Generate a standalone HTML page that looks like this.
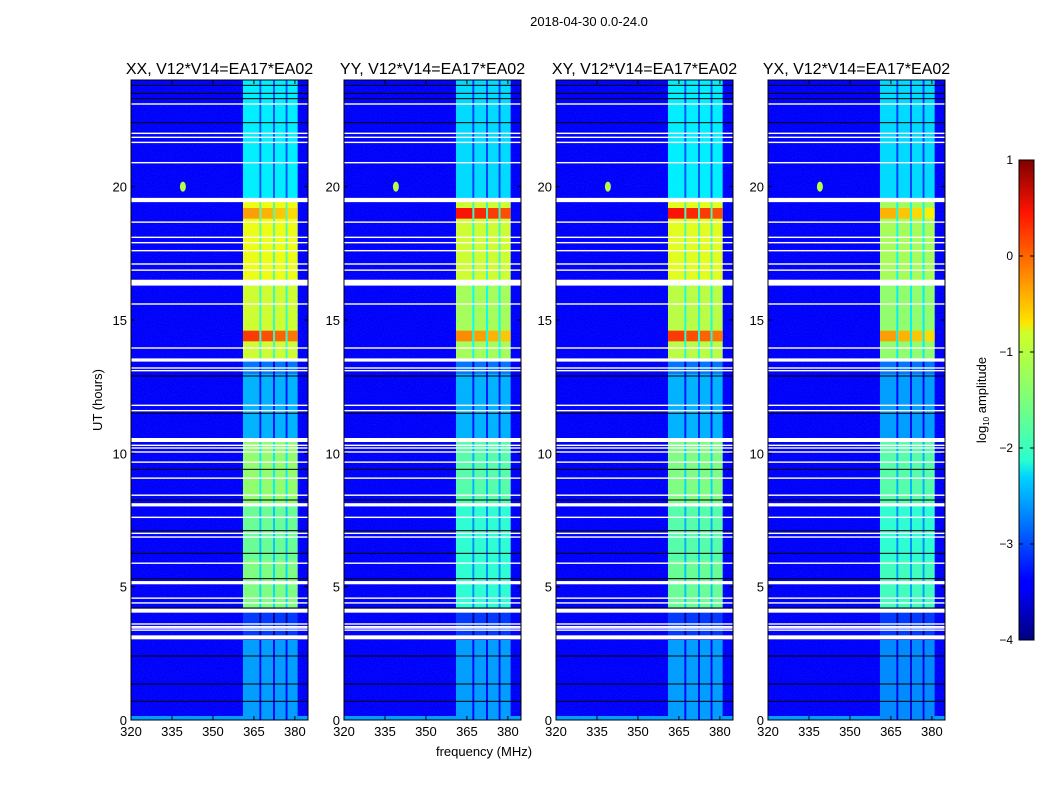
<!DOCTYPE html>
<html><head><meta charset="utf-8"><style>
body{margin:0;background:#fff;}
svg{display:block;font-family:"Liberation Sans",sans-serif;}
</style></head><body>
<svg id="fig" width="1050" height="800" viewBox="0 0 1050 800">
<defs>
<linearGradient id="jetg" x1="0" y1="1" x2="0" y2="0">
<stop offset="0" stop-color="#00007f"/><stop offset="0.11" stop-color="#0000ff"/>
<stop offset="0.125" stop-color="#0000ff"/><stop offset="0.34" stop-color="#00d4ff"/>
<stop offset="0.375" stop-color="#29ffce"/><stop offset="0.5" stop-color="#7dff7a"/>
<stop offset="0.64" stop-color="#ceff29"/><stop offset="0.66" stop-color="#ffe500"/>
<stop offset="0.89" stop-color="#ff1400"/><stop offset="1" stop-color="#7f0000"/>
</linearGradient>
<filter id="noise" x="0" y="0" width="100%" height="100%">
<feTurbulence type="fractalNoise" baseFrequency="0.9" numOctaves="1" seed="3"/>
<feColorMatrix type="matrix" values="0 0 0 0 0.1  0 0 0 0 0.45  0 0 0 0 1  0 0 0 0.9 -0.4"/>
</filter>
</defs>
<text x="589" y="26" font-size="13" text-anchor="middle">2018-04-30 0.0-24.0</text>
<text x="484" y="756" font-size="13" text-anchor="middle">frequency (MHz)</text>
<text transform="translate(102,400) rotate(-90)" font-size="13" text-anchor="middle">UT (hours)</text>
<g id="panels"></g>
<g id="cbar">
<rect x="1019" y="160" width="15" height="480" fill="url(#jetg)" stroke="#000" stroke-width="1"/>
<text transform="translate(986,400) rotate(-90)" font-size="13" text-anchor="middle">log<tspan font-size="8" dy="3">10</tspan><tspan dy="-3"> amplitude</tspan></text>
</g>
</svg>
<script>
// ---- data ----
const panelTitles = ["XX, V12*V14=EA17*EA02","YY, V12*V14=EA17*EA02","XY, V12*V14=EA17*EA02","YX, V12*V14=EA17*EA02"];
const xTicks = [320,335,350,365,380];
const yTicks = [0,5,10,15,20];
const cbTicks = [1,0,-1,-2,-3,-4];
const segStart = [0, 3.1, 4.2, 6.0, 8.1, 10.5, 13.0, 13.5, 16.4, 19.5];
const segEnd   = [3.0, 4.2, 6.0, 8.1, 10.5, 13.0, 13.5, 16.4, 19.5, 24];
const bandXX = [-2.6,-3.1,-1.5,-1.6,-1.4,-2.5,-2.8,-1.1,-0.95,-2.2];
const bandYY = [-2.6,-3.1,-1.9,-1.9,-1.7,-2.5,-2.8,-1.3,-1.1,-2.3];
const bandXY = [-2.6,-3.1,-1.6,-1.7,-1.5,-2.5,-2.8,-1.2,-1.0,-2.2];
const bandYX = [-2.7,-3.1,-1.8,-1.9,-1.7,-2.6,-2.8,-1.4,-1.3,-2.3];
const hotStart = [14.2, 18.8];
const hotEnd = [14.6, 19.2];
const hotXX = [0.1, -0.4], hotYY = [-0.3, 0.3], hotXY = [0.1, 0.3], hotYX = [-0.4, -0.5];
const subBandStart = [361.0, 367.7, 372.7, 377.3];
const subBandEnd = [367.0, 372.0, 376.6, 381.0];
const bgLevel = -3.4;
const whiteLines = [23.1,22.0,21.85,21.66,20.9,18.67,18.1,17.9,17.6,17.1,16.87,15.6,13.95,13.2,13.1,11.8,11.6,10.3,10.2,10.05,9.67,9.07,8.43,7.6,7.0,6.86,5.88,4.57,4.39,3.6,3.5,3.45,3.37];
const thickWhite = [19.5,16.4,13.5,10.5,8.07,5.15,4.1,3.1];
const thickWidth = [0.16,0.22,0.12,0.15,0.12,0.12,0.15,0.15];
const darkLines = [23.8,23.5,23.3,22.4,12.9,11.5,9.4,8.25,7.1,6.25,5.3,4.2,2.4,1.35,0.7];
// ---- layout ----
const panelX = [131,344,556,768], pw = 177, yTop = 80, yBot = 720;
const xmin = 320, xmax = 384.8, ymax = 24;
function jet(v){let t=Math.max(0,Math.min(1,(v+4)/5));
 const r=Math.max(0,Math.min(1,1.5-Math.abs(4*t-3))),g=Math.max(0,Math.min(1,1.5-Math.abs(4*t-2))),b=Math.max(0,Math.min(1,1.5-Math.abs(4*t-1)));
 return `rgb(${Math.round(r*255)},${Math.round(g*255)},${Math.round(b*255)})`;}
const NS="http://www.w3.org/2000/svg";
function el(tag,attrs,parent){const e=document.createElementNS(NS,tag);for(const k in attrs)e.setAttribute(k,attrs[k]);parent.appendChild(e);return e;}
const bands=[bandXX,bandYY,bandXY,bandYX], hots=[hotXX,hotYY,hotXY,hotYX];
const root=document.getElementById('panels');
panelX.forEach((px,p)=>{
 const sx=f=>px+(f-xmin)/(xmax-xmin)*pw, sy=h=>yBot-h/ymax*(yBot-yTop);
 const g=el('g',{},root);
 
 
 const bg=el('rect',{x:px,y:yTop,width:pw,height:yBot-yTop,fill:jet(bgLevel)},g);
 
 
 const bs=el('rect',{x:px,y:sy(0.15),width:pw,height:sy(0)-sy(0.15),fill:jet(-2.6)},g);
 
 
 segStart.forEach((s,i)=>{
  const lv=bands[p][i];
  const gap=el('rect',{x:sx(subBandStart[0]),y:sy(segEnd[i]),width:sx(subBandEnd[3])-sx(subBandStart[0]),height:sy(s)-sy(segEnd[i]),fill:jet(lv-0.8)},g);
  
  
  subBandStart.forEach((f0,j)=>{
   const c=el('rect',{x:sx(f0),y:sy(segEnd[i]),width:sx(subBandEnd[j])-sx(f0),height:sy(s)-sy(segEnd[i]),fill:jet(lv)},g);
   
   
  });
 });
 hotStart.forEach((s,i)=>{
  subBandStart.forEach((f0,j)=>{
   const c=el('rect',{x:sx(f0),y:sy(hotEnd[i]),width:sx(subBandEnd[j])-sx(f0),height:sy(s)-sy(hotEnd[i]),fill:jet(hots[p][i]-j*0.1)},g);
   
   
  });
 });
 const spot=el('ellipse',{cx:sx(339),cy:sy(20),rx:3,ry:5,fill:jet(-1.2)},g);
 
 
 const nz=el('rect',{x:px,y:yTop,width:pw,height:yBot-yTop,filter:'url(#noise)',opacity:0.35},g);
 
 
 darkLines.forEach(h=>{const l=el('rect',{x:px,y:sy(h)-0.5,width:pw,height:1,fill:'#000'},g);
  
  });
 whiteLines.forEach(h=>{const l=el('rect',{x:px,y:sy(h)-0.7,width:pw,height:1.4,fill:'#fff'},g);
  
  });
 thickWhite.forEach((h,i)=>{const w=thickWidth[i]*(yBot-yTop)/ymax;const l=el('rect',{x:px,y:sy(h)-w/2,width:pw,height:w,fill:'#fff'},g);
  
  });
 const fr=el('rect',{x:px,y:yTop,width:pw,height:yBot-yTop,fill:'none',stroke:'#000','stroke-width':1},g);
 
 
 const t=el('text',{x:px+pw/2,y:74,'font-size':16,'text-anchor':'middle'},g);t.textContent=panelTitles[p];
 
 
 xTicks.forEach(v=>{const x=sx(v);
  el('line',{x1:x,x2:x,y1:yBot,y2:yBot-4,stroke:'#000'},g);el('line',{x1:x,x2:x,y1:yTop,y2:yTop+4,stroke:'#000'},g);
  const tl=el('text',{x:x,y:yBot+16,'font-size':13,'text-anchor':'middle'},g);tl.textContent=v;
  
  });
 yTicks.forEach(v=>{const y=sy(v);
  el('line',{x1:px,x2:px+4,y1:y,y2:y,stroke:'#000'},g);el('line',{x1:px+pw,x2:px+pw-4,y1:y,y2:y,stroke:'#000'},g);
  const tl=el('text',{x:px-4,y:y+5,'font-size':13,'text-anchor':'end'},g);tl.textContent=v;
  
  });
});
const cb=document.getElementById('cbar');
cbTicks.forEach(v=>{const y=640-(v+4)/5*480;
 el('line',{x1:1019,x2:1023,y1:y,y2:y,stroke:'#000'},cb);el('line',{x1:1034,x2:1030,y1:y,y2:y,stroke:'#000'},cb);
 const tl=el('text',{x:1013,y:y+4,'font-size':12,'text-anchor':'end'},cb);tl.textContent=v<0?'\u2212'+(-v):v;
 
 });
</script>
</body></html>
